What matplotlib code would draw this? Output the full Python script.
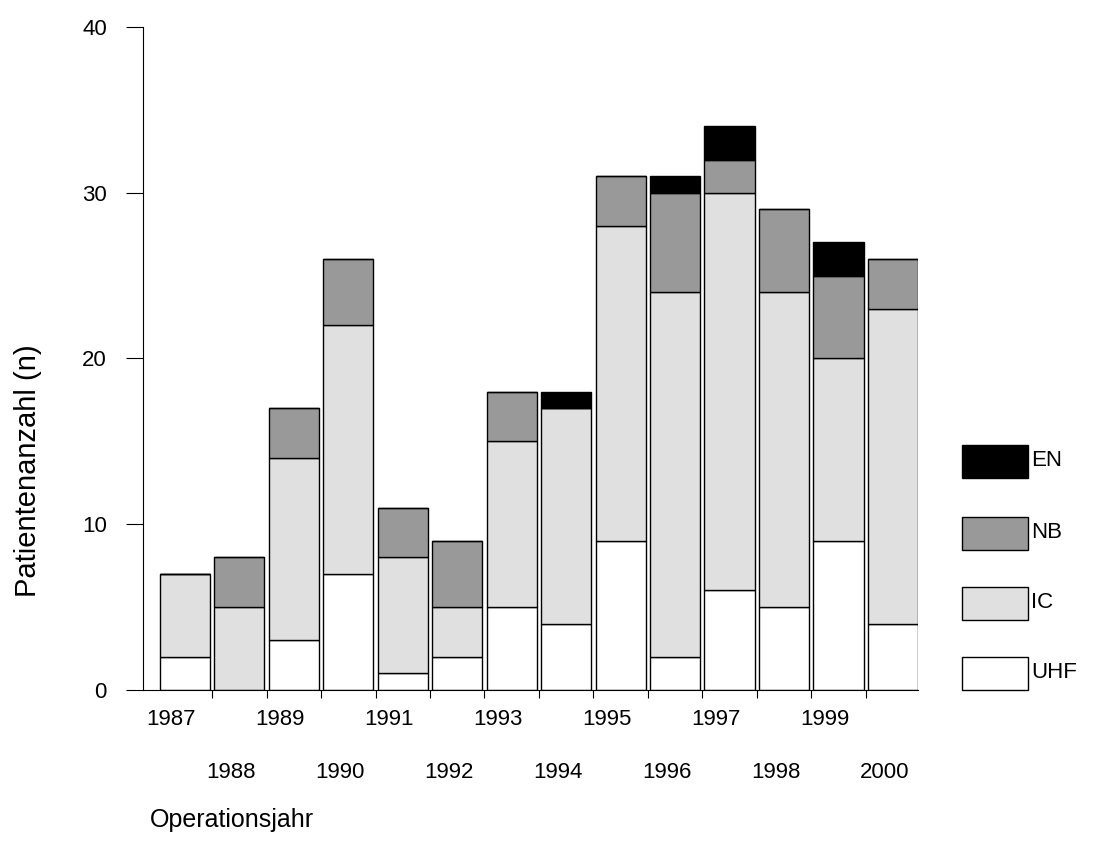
import matplotlib.pyplot as plt
from matplotlib.patches import Rectangle
import numpy as np

years = [str(y) for y in range(1987, 2001)]
uhf = [2, 0, 3, 7, 1, 2, 5, 4, 9, 2, 6, 5, 9, 4]
ic = [5, 5, 11, 15, 7, 3, 10, 13, 19, 22, 24, 19, 11, 19]
nb = [0, 3, 3, 4, 3, 4, 3, 0, 3, 6, 2, 5, 5, 3]
en = [0, 0, 0, 0, 0, 0, 0, 1, 0, 1, 2, 0, 2, 0]

series = [("UHF", uhf, "white"), ("IC", ic, "#e0e0e0"),
          ("NB", nb, "#999999"), ("EN", en, "black")]

plt.rcParams["font.family"] = ["Liberation Sans", "DejaVu Sans"]
fig = plt.figure(figsize=(10.94, 8.56), dpi=100)
ax = fig.add_axes([0.1307, 0.194, 0.7084, 0.7745])

x = np.arange(len(years))
bottom = np.zeros(len(years))
for name, vals, col in series:
    ax.bar(x, vals, 0.92, bottom=bottom, color=col, edgecolor="black", linewidth=1)
    bottom += np.array(vals)

ax.set_xlim(-0.77, 13.46)
ax.set_ylim(0, 40)
ax.set_yticks([0, 10, 20, 30, 40])
ax.tick_params(axis="y", labelsize=16, direction="out", length=12, pad=14)
ax.spines["top"].set_visible(False)
ax.spines["right"].set_visible(False)
ax.set_xticks(x[:-1] + 0.5)
ax.set_xticklabels([])
ax.tick_params(axis="x", direction="out", length=6)
for i, y in enumerate(years):
    off = -0.045 if i % 2 == 0 else -0.125
    shift = 0.25 if i % 2 == 0 else 0.15
    ax.text(i - shift, off, y, transform=ax.get_xaxis_transform(),
            ha="center", va="center", fontsize=16)

fig.text(0.026, 0.45, "Patientenanzahl (n)", rotation=90, ha="center", va="center", fontsize=21)
fig.text(0.137, 0.042, "Operationsjahr", ha="left", va="center", fontsize=18)

# legend boxes
ys = [445, 517, 587, 657]
for (name, vals, col), y in zip(series[::-1], ys):
    fig.patches.append(Rectangle((962 / 1094, 1 - (y + 33) / 856), 66 / 1094, 33 / 856,
                                 transform=fig.transFigure, facecolor=col,
                                 edgecolor="black", linewidth=1))
    fig.text(1031 / 1094, 1 - (y + 16) / 856, name, ha="left", va="center", fontsize=16)

fig.savefig("out.png")
